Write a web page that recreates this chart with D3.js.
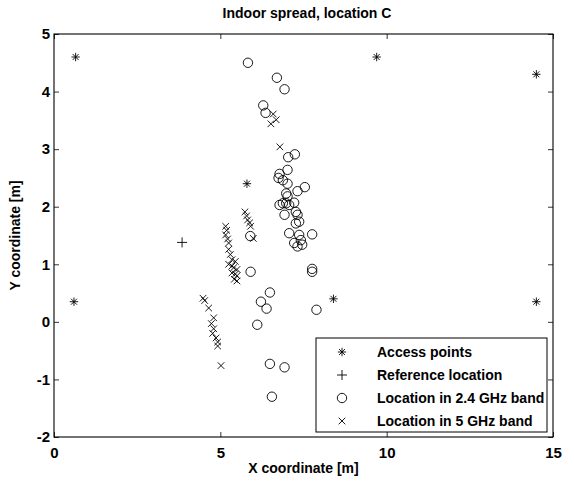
<!DOCTYPE html>
<html>
<head>
<meta charset="utf-8">
<script src="https://cdn.jsdelivr.net/npm/d3@7"></script>
<style>
  html, body { margin: 0; padding: 0; background: #fff; }
  svg { display: block; }
  text { font-family: "Liberation Sans", Arial, Helvetica, sans-serif; font-weight: bold; fill: #000; }
</style>
</head>
<body>
<div id="chart"></div>
<script>
// ---- data ----
const titleText = "Indoor spread, location C";
const xLabelText = "X coordinate [m]";
const yLabelText = "Y coordinate [m]";
const xTicks = [0, 5, 10, 15];
const yTicks = [-2, -1, 0, 1, 2, 3, 4, 5];
const legendLabels = ["Access points", "Reference location", "Location in 2.4 GHz band", "Location in 5 GHz band"];

const accessPoints = [[0.65,4.6],[9.7,4.6],[14.5,4.3],[0.6,0.35],[14.5,0.35],[8.4,0.4],[5.8,2.4]];
const referenceLocation = [[3.85,1.38]];
const band24 = [[5.83,4.50],[6.70,4.24],[6.93,4.04],[6.29,3.76],[6.36,3.63],[7.24,2.91],[7.04,2.86],
  [7.02,2.64],[6.78,2.57],[6.75,2.50],[6.88,2.46],[7.02,2.40],[7.32,2.27],[7.54,2.34],[6.98,2.23],
  [7.02,2.18],[6.88,2.06],[6.78,2.03],[6.98,2.06],[7.07,2.03],[7.22,2.07],[6.93,1.86],[7.27,1.91],
  [7.32,1.86],[7.27,1.71],[7.37,1.74],[7.07,1.54],[7.37,1.51],[7.76,1.52],[7.42,1.42],[7.22,1.37],
  [7.32,1.31],[7.46,1.34],[7.76,0.92],[7.76,0.87],[5.90,1.49],[5.91,0.87],[6.49,0.51],[6.22,0.35],
  [6.39,0.23],[7.89,0.21],[6.11,-0.05],[6.49,-0.73],[6.93,-0.79],[6.55,-1.30]];
const band5 = [[6.59,3.61],[6.68,3.51],[6.52,3.44],[6.79,3.04],
  [5.74,1.91],[5.79,1.84],[5.82,1.77],[5.88,1.72],[5.91,1.66],[5.99,1.45],
  [5.16,1.66],[5.19,1.59],[5.16,1.51],[5.22,1.44],[5.25,1.37],[5.25,1.26],[5.30,1.17],[5.35,1.08],
  [5.45,1.05],[5.25,1.00],[5.35,0.97],[5.40,0.94],[5.50,0.91],[5.35,0.85],[5.45,0.83],[5.50,0.80],
  [5.42,0.74],[5.50,0.71],
  [4.48,0.41],[4.53,0.37],[4.65,0.24],[4.80,0.07],[4.73,-0.03],[4.80,-0.12],[4.77,-0.20],
  [4.87,-0.28],[4.92,-0.35],[4.92,-0.42],[5.02,-0.76]];

// ---- layout ----
const W = 574, H = 488;
const L = 54, R = 553, T = 34, B = 437;

const svg = d3.select("#chart").append("svg").attr("width", W).attr("height", H);

const x = d3.scaleLinear().domain([0, 15]).range([L, R]);
const y = d3.scaleLinear().domain([-2, 5]).range([B, T]);

// marker path generators
function asterisk(s) {
  const d = s * 0.707;
  return `M${-s},0L${s},0M0,${-s}L0,${s}M${-d},${-d}L${d},${d}M${-d},${d}L${d},${-d}`;
}
function plus(s) { return `M${-s},0L${s},0M0,${-s}L0,${s}`; }
function cross(s) { return `M${-s},${-s}L${s},${s}M${-s},${s}L${s},${-s}`; }

const markers = [
  { data: accessPoints, draw: g => g.append("path").attr("d", asterisk(4.2)) },
  { data: referenceLocation, draw: g => g.append("path").attr("d", plus(5)) },
  { data: band24, draw: g => g.append("circle").attr("r", 4.7) },
  { data: band5, draw: g => g.append("path").attr("d", cross(3.3)) }
];

const plainFmt = d => String(d);

// axes (ticks inward, box)
const tickStyle = g => {
  g.select(".domain").remove();
  g.selectAll(".tick line").attr("stroke", "#000").attr("stroke-width", 0.8);
  g.selectAll("text").style("font-size", "15px").style("font-family", "'Liberation Sans', Arial, sans-serif").style("font-weight", "bold");
};

svg.append("g").attr("transform", `translate(0,${B})`)
  .call(d3.axisBottom(x).tickValues(xTicks).tickSizeInner(-5).tickSizeOuter(0).tickPadding(10).tickFormat(plainFmt))
  .call(tickStyle);
svg.append("g").attr("transform", `translate(${L},0)`)
  .call(d3.axisLeft(y).tickValues(yTicks).tickSizeInner(-5).tickSizeOuter(0).tickPadding(4).tickFormat(plainFmt))
  .call(tickStyle);
svg.append("g").attr("transform", `translate(0,${T})`)
  .call(d3.axisTop(x).tickValues(xTicks).tickSizeInner(-5).tickSizeOuter(0).tickFormat(""))
  .call(tickStyle);
svg.append("g").attr("transform", `translate(${R},0)`)
  .call(d3.axisRight(y).tickValues(yTicks).tickSizeInner(-5).tickSizeOuter(0).tickFormat(""))
  .call(tickStyle);

svg.append("rect").attr("x", L).attr("y", T).attr("width", R - L).attr("height", B - T)
  .attr("fill", "none").attr("stroke", "#000").attr("stroke-width", 1.1);

// data markers
const plot = svg.append("g").attr("fill", "none").attr("stroke", "#000").attr("stroke-width", 0.9);
markers.forEach(m => {
  m.data.forEach(p => {
    const g = plot.append("g").attr("transform", `translate(${x(p[0])},${y(p[1])})`);
    m.draw(g);
  });
});

// legend
const lgX = 316, lgY = 338, lgW = 231, lgH = 94;
svg.append("rect").attr("x", lgX).attr("y", lgY).attr("width", lgW).attr("height", lgH)
  .attr("fill", "#fff").attr("stroke", "#000").attr("stroke-width", 1);
legendLabels.forEach((lab, i) => {
  const cy = lgY + 14 + i * 23;
  const g = svg.append("g").attr("transform", `translate(${lgX + 26},${cy})`)
    .attr("fill", "none").attr("stroke", "#000").attr("stroke-width", 0.9);
  markers[i].draw(g);
  svg.append("text").attr("x", lgX + 61).attr("y", cy).attr("dy", "0.36em")
    .style("font-size", "14px").text(lab);
});

// title and labels
svg.append("text").attr("x", 307).attr("y", 18).attr("text-anchor", "middle")
  .style("font-size", "14px").text(titleText);
svg.append("text").attr("x", (L + R) / 2).attr("y", 473).attr("text-anchor", "middle")
  .style("font-size", "14px").text(xLabelText);
svg.append("text").attr("transform", `translate(20,${(T + B) / 2}) rotate(-90)`).attr("text-anchor", "middle")
  .style("font-size", "14px").text(yLabelText);
</script>
</body>
</html>
